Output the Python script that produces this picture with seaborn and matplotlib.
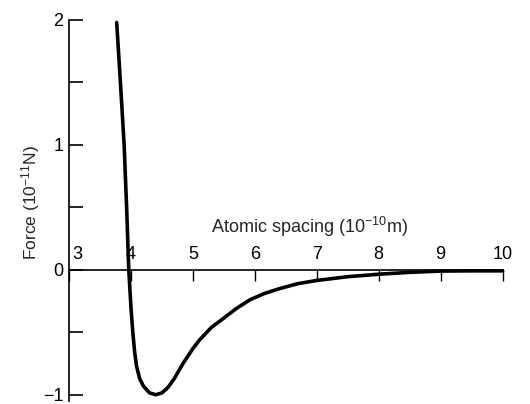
import numpy as np
import pandas as pd
import matplotlib
matplotlib.use("Agg")
import matplotlib.pyplot as plt
import matplotlib.transforms as mtransforms
import seaborn as sns

sns.set_style("white")
plt.rcParams['font.family'] = ['Liberation Sans', 'DejaVu Sans']
plt.rcParams['mathtext.default'] = 'regular'

# values
spacing = [3.77, 3.83, 3.89, 3.93, 3.965, 4.0, 4.03, 4.06, 4.09, 4.14, 4.2, 4.3,
           4.4, 4.5, 4.6, 4.7, 4.84, 5.0, 5.11, 5.3, 5.49, 5.7, 5.92, 6.15,
           6.4, 6.7, 7.0, 7.5, 8.0, 8.5, 9.0, 9.5, 10.0]
force = [1.98, 1.5, 1.0, 0.5, 0.0, -0.3, -0.5, -0.66, -0.77, -0.87, -0.93, -0.985,
         -1.0, -0.985, -0.94, -0.87, -0.75, -0.63, -0.56, -0.46, -0.39, -0.31, -0.24, -0.19,
         -0.15, -0.11, -0.085, -0.055, -0.035, -0.02, -0.01, -0.008, -0.008]

x_ticks = [3, 4, 5, 6, 7, 8, 9, 10]
y_ticks = [-1, 0, 1, 2]
y_minor = [-0.5, 0.5, 1.5]

df = pd.DataFrame({'spacing': spacing, 'force': force})

fig = plt.figure(figsize=(5.3, 4.04), dpi=100)
ax = fig.add_axes([0.1302, 0.0074, 0.8415, 0.9431])

sns.lineplot(data=df, x='spacing', y='force', color='black', linewidth=2.6,
             estimator=None, ax=ax)

ax.set_xlim(3, 10.2)
ax.set_ylim(-1.05, 2.0)

for side in ['top', 'right']:
    ax.spines[side].set_visible(False)
ax.spines['bottom'].set_position(('data', 0))
ax.spines['bottom'].set_bounds(3, 10)
ax.spines['left'].set_bounds(-1.05, 2.0)
for side in ['bottom', 'left']:
    ax.spines[side].set_linewidth(1.2)
    ax.spines[side].set_color('black')

ax.set_xticks(x_ticks)
ax.set_xticklabels([str(t) for t in x_ticks])
ax.tick_params(axis='x', bottom=True, direction='out', length=8, width=1.0, pad=-25,
               labelsize=13, colors='black')
ax.get_xticklabels()[0].set_transform(
    ax.get_xticklabels()[0].get_transform()
    + mtransforms.ScaledTranslation(0.08, 0, fig.dpi_scale_trans))

ax.set_yticks(y_ticks)
ax.set_yticklabels(['\u22121', '0', '1', '2'])
ax.set_yticks(y_minor, minor=True)
ax.tick_params(axis='y', which='both', left=True, direction='in', length=10, width=1.2,
               pad=4, labelsize=13, colors='black')

ax.set_xlabel('Atomic spacing (10$^{-10}$m)', fontsize=13, va='center')
ax.xaxis.set_label_coords(6.89, 0.34, transform=ax.transData)
ax.set_ylabel('Force (10$^{-11}$N)', fontsize=12.5, va='center')
ax.yaxis.set_label_coords(-0.087, 0.52)

ax.grid(False)
fig.savefig('out.png', dpi=100)
